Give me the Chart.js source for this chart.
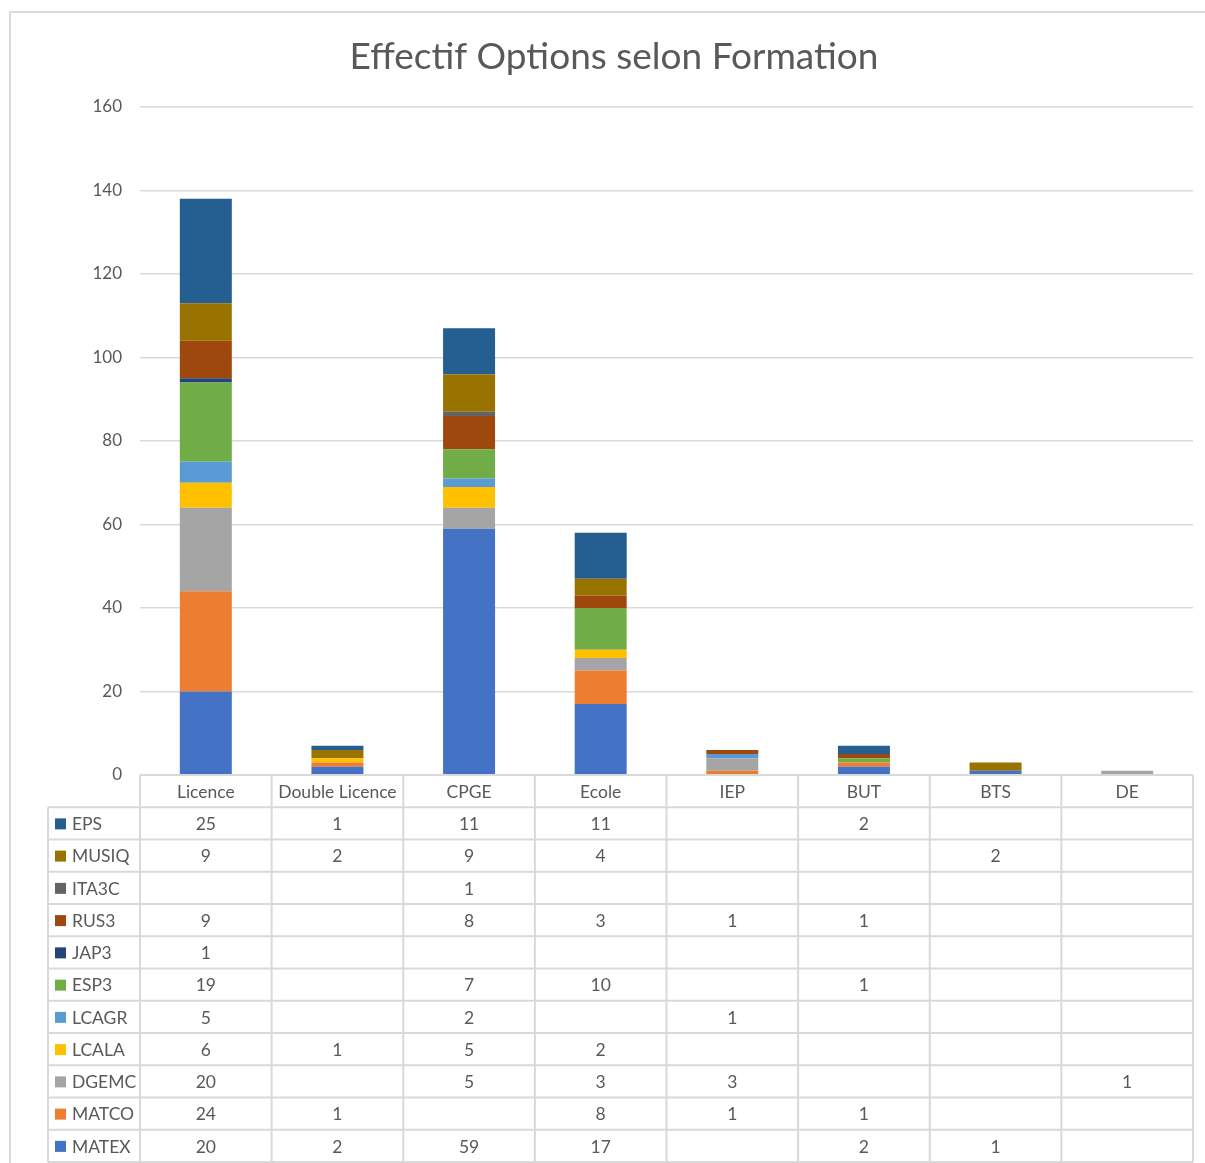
<!DOCTYPE html>
<html><head><meta charset="utf-8">
<script src="https://cdn.jsdelivr.net/npm/chart.js@4/dist/chart.umd.min.js"></script>
<style>html,body{margin:0;padding:0;background:#fff}#wrap{width:1205px;height:1163px;position:relative}</style>
</head><body><div id="wrap"><canvas id="c" width="1205" height="1163"></canvas></div>
<script>
const categories = ['Licence','Double Licence','CPGE','Ecole','IEP','BUT','BTS','DE'];
const MATEX = [20, 2, 59, 17, null, 2, 1, null];
const MATCO = [24, 1, null, 8, 1, 1, null, null];
const DGEMC = [20, null, 5, 3, 3, null, null, 1];
const LCALA = [6, 1, 5, 2, null, null, null, null];
const LCAGR = [5, null, 2, null, 1, null, null, null];
const ESP3  = [19, null, 7, 10, null, 1, null, null];
const JAP3  = [1, null, null, null, null, null, null, null];
const RUS3  = [9, null, 8, 3, 1, 1, null, null];
const ITA3C = [null, null, 1, null, null, null, null, null];
const MUSIQ = [9, 2, 9, 4, null, null, 2, null];
const EPS   = [25, 1, 11, 11, null, 2, null, null];
const yTicks = [0, 20, 40, 60, 80, 100, 120, 140, 160];

const seriesNames = ['MATEX','MATCO','DGEMC','LCALA','LCAGR','ESP3','JAP3','RUS3','ITA3C','MUSIQ','EPS'];
const seriesData = [MATEX, MATCO, DGEMC, LCALA, LCAGR, ESP3, JAP3, RUS3, ITA3C, MUSIQ, EPS];
const seriesColors = ['#4472C4','#ED7D31','#A5A5A5','#FFC000','#5B9BD5','#70AD47','#264478','#9E480E','#636363','#997300','#255E91'];

const FONT = 'Lato, Carlito, "Open Sans", sans-serif';
Chart.defaults.font.family = FONT;
Chart.defaults.color = '#595959';

const frame = {
  id: 'frame',
  beforeDraw(chart) {
    const ctx = chart.ctx;
    ctx.save();
    ctx.strokeStyle = '#d9d9d9';
    ctx.lineWidth = 2;
    ctx.beginPath();
    ctx.moveTo(10, 1200); ctx.lineTo(10, 12); ctx.lineTo(1210, 12);
    ctx.stroke();
    ctx.restore();
  }
};

const dataTable = {
  id: 'dataTable',
  afterDraw(chart) {
    const ctx = chart.ctx, xs = chart.scales.x, a = chart.chartArea;
    const n = categories.length, colW = (a.right - a.left) / n;
    const top = a.bottom, rowH = 32.25, labelLeft = 48;
    const nRows = seriesNames.length + 1;
    const bottom = top + rowH * nRows;
    ctx.save();
    ctx.strokeStyle = '#d9d9d9';
    ctx.lineWidth = 2;
    ctx.beginPath();
    ctx.moveTo(a.left, top); ctx.lineTo(a.right, top);
    for (let r = 1; r <= nRows; r++) {
      const y = top + r * rowH;
      ctx.moveTo(labelLeft, y); ctx.lineTo(a.right, y);
    }
    ctx.moveTo(labelLeft, top + rowH); ctx.lineTo(labelLeft, bottom);
    for (let c = 0; c <= n; c++) {
      const x = a.left + c * colW;
      ctx.moveTo(x, top); ctx.lineTo(x, bottom);
    }
    ctx.stroke();
    ctx.font = '17.5px ' + FONT;
    ctx.fillStyle = '#595959';
    ctx.textBaseline = 'middle';
    ctx.textAlign = 'center';
    categories.forEach((c, i) => {
      ctx.fillText(c, xs.getPixelForValue(i), top + rowH / 2 + 1);
    });
    for (let k = 0; k < seriesNames.length; k++) {
      const s = seriesNames.length - 1 - k;
      const yc = top + rowH * (k + 1) + rowH / 2 + 1;
      ctx.fillStyle = seriesColors[s];
      ctx.fillRect(55, yc - 6, 11, 11);
      ctx.fillStyle = '#595959';
      ctx.textAlign = 'left';
      ctx.fillText(seriesNames[s], 72, yc);
      ctx.textAlign = 'center';
      seriesData[s].forEach((v, i) => {
        if (v !== null && v !== undefined) ctx.fillText(String(v), xs.getPixelForValue(i), yc);
      });
    }
    ctx.restore();
  }
};

new Chart(document.getElementById('c'), {
  type: 'bar',
  data: {
    labels: categories,
    datasets: seriesNames.map((name, i) => ({
      label: name,
      data: seriesData[i],
      backgroundColor: seriesColors[i],
      borderWidth: 0,
      categoryPercentage: 1,
      barPercentage: 0.395
    }))
  },
  options: {
    responsive: false,
    animation: false,
    devicePixelRatio: 1,
    layout: { padding: { left: 35, right: 12, top: 0, bottom: 388 } },
    plugins: {
      legend: { display: false },
      tooltip: { enabled: false },
      title: {
        display: true,
        text: 'Effectif Options selon Formation',
        color: '#595959',
        font: { size: 37, weight: 'normal', family: FONT, lineHeight: 1.2 },
        padding: { top: 34.5, bottom: 28 }
      }
    },
    scales: {
      x: { display: false, stacked: true },
      y: {
        stacked: true,
        min: 0, max: 160,
        afterFit(scale) { scale.width = 105; },
        afterBuildTicks(scale) { scale.ticks = yTicks.map(v => ({ value: v })); },
        border: { display: false },
        grid: { color: '#d9d9d9', lineWidth: 1.5, drawTicks: false },
        ticks: { padding: 18, color: '#595959', font: { size: 17, family: FONT } }
      }
    }
  },
  plugins: [frame, dataTable]
});
</script>
</body></html>
